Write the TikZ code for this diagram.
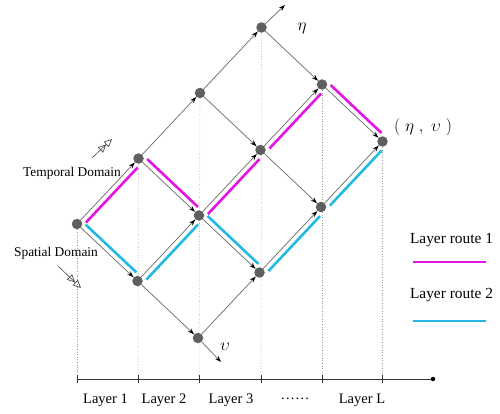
\documentclass[tikz,border=0pt]{standalone}
\usepackage{fontspec}
\setmainfont{Liberation Serif}
\usetikzlibrary{arrows.meta,calc,backgrounds}
\definecolor{dotgray}{RGB}{95,95,95}
\definecolor{edgegray}{RGB}{105,105,105}
\definecolor{rmag}{RGB}{228,20,228}
\definecolor{rcyan}{RGB}{35,185,228}
\newcommand{\rtEta}[3]{\draw[#1] ($(#2)!0.08!(#3)+(4pt,-3.8pt)$) -- ($(#2)!0.92!(#3)+(4pt,-3.8pt)$);}
\newcommand{\rtUps}[3]{\draw[#1] ($(#2)!0.08!(#3)+(3.8pt,4pt)$) -- ($(#2)!0.92!(#3)+(3.8pt,4pt)$);}
\begin{document}
\begin{tikzpicture}[x=1pt,y=-1pt,
  dot/.style={circle,fill=dotgray,inner sep=0pt,minimum size=10.5pt},
  edge/.style={draw=edgegray,line width=0.7pt,-{Stealth[length=6.5pt,width=4.5pt,color=black]}},
  routeA/.style={draw=rmag,line width=2.6pt},
  routeB/.style={draw=rcyan,line width=2.6pt},
  vline/.style={draw=gray!75,dotted,line width=0.6pt},
  axisline/.style={draw=black!80,line width=0.8pt},
  enddot/.style={circle,fill=black,inner sep=0pt,minimum size=4.5pt},
  lbl/.style={font=\fontsize{14.5}{16}\selectfont,inner sep=0pt,anchor=base},
  leg/.style={font=\fontsize{15.4}{17}\selectfont,inner sep=0pt,anchor=base},
  dom/.style={font=\fontsize{13.4}{15}\selectfont,inner sep=0pt,anchor=base},
  greek/.style={font=\fontsize{18}{18}\selectfont,inner sep=0pt},
  domarrow/.style={draw=black!70,line width=0.6pt,-{Triangle[open,length=8pt,width=7.5pt,line width=0.7pt]Triangle[open,length=8pt,width=7.5pt,line width=0.7pt]}}]
\useasboundingbox (0,0) rectangle (500,414);

% grid nodes (eta index, upsilon index)
\node[dot] (n00) at (77,224) {};
\node[dot] (n10) at (138.5,158.5) {};
\node[dot] (n20) at (200,93) {};
\node[dot] (n30) at (261.5,27.5) {};
\node[dot] (n01) at (137.5,281) {};
\node[dot] (n11) at (199,215.5) {};
\node[dot] (n21) at (260.5,150) {};
\node[dot] (n31) at (322,84.5) {};
\node[dot] (n02) at (198,338) {};
\node[dot] (n12) at (259.5,272.5) {};
\node[dot] (n22) at (321,207) {};
\node[dot] (n32) at (382.5,141.5) {};

% axis coordinates
\coordinate (t0) at (77,379);
\coordinate (t1) at (138,379);
\coordinate (t2) at (199,379);
\coordinate (t3) at (261,379);
\coordinate (t4) at (322,379);
\coordinate (t5) at (382.5,379);
\node[enddot] (axend) at (433,379) {};
\coordinate (etaend) at (285,5);
\coordinate (upsend) at (221,362);

\begin{scope}[on background layer]
  % dotted layer lines
  \draw[vline] (n00) -- (t0);
  \draw[vline] (n10) -- (t1);
  \draw[vline] (n20) -- (t2);
  \draw[vline] (n30) -- (t3);
  \draw[vline] (n31) -- (t4);
  \draw[vline] (n32) -- (t5);
  % grid edges
  \draw[edge] (n00) -- (n10);
  \draw[edge] (n10) -- (n20);
  \draw[edge] (n20) -- (n30);
  \draw[edge] (n01) -- (n11);
  \draw[edge] (n11) -- (n21);
  \draw[edge] (n21) -- (n31);
  \draw[edge] (n02) -- (n12);
  \draw[edge] (n12) -- (n22);
  \draw[edge] (n22) -- (n32);
  \draw[edge] (n00) -- (n01);
  \draw[edge] (n01) -- (n02);
  \draw[edge] (n10) -- (n11);
  \draw[edge] (n11) -- (n12);
  \draw[edge] (n20) -- (n21);
  \draw[edge] (n21) -- (n22);
  \draw[edge] (n30) -- (n31);
  \draw[edge] (n31) -- (n32);
  \draw[edge] (n30) -- (etaend);
  \draw[edge] (n02) -- (upsend);
  % route 1
  \rtEta{routeA}{n00}{n10}
  \rtUps{routeA}{n10}{n11}
  \rtEta{routeA}{n11}{n21}
  \rtEta{routeA}{n21}{n31}
  \rtUps{routeA}{n31}{n32}
  % route 2
  \rtUps{routeB}{n00}{n01}
  \rtEta{routeB}{n01}{n11}
  \rtUps{routeB}{n11}{n12}
  \rtEta{routeB}{n12}{n22}
  \rtEta{routeB}{n22}{n32}
\end{scope}

% axis
\draw[axisline] (t0) -- (axend);
\foreach \t in {t0,t1,t2,t3,t4,t5}
  \draw[axisline] ($(\t)+(0,-4pt)$) -- ($(\t)+(0,4pt)$);

% layer labels
\node[lbl] (lay1) at (105.5,403) {Layer 1};
\node[lbl] (lay2) at (164,403) {Layer 2};
\node[lbl] (lay3) at (231,403) {Layer 3};
\node[lbl] (laydots) at (295,403) {\raisebox{3.5pt}{……}};
\node[lbl] (layL) at (362,403) {Layer L};

% greek labels
\node[greek] (etalbl) at (302,28) {$\eta$};
\node[greek] (upslbl) at (225,347) {$\upsilon$};
\node[greek] (pairlbl) at (423,127) {$(\;\eta\;,\;\upsilon\;)$};

% domain labels and arrows
\node[dom] (temp) at (72,176) {Temporal Domain};
\node[dom] (spat) at (56,256) {Spatial Domain};
\coordinate (td1) at (92,158);
\coordinate (td2) at (112,139);
\coordinate (sd1) at (58,266);
\coordinate (sd2) at (81,288);
\draw[domarrow] (td1) -- (td2);
\draw[domarrow] (sd1) -- (sd2);

% legend
\node[leg] (leg1) at (451.5,243) {Layer route 1};
\node[leg] (leg2) at (451.5,298) {Layer route 2};
\coordinate (lg1a) at (413,262);
\coordinate (lg1b) at (486,262);
\coordinate (lg2a) at (413,321);
\coordinate (lg2b) at (486,321);
\draw[routeA] (lg1a) -- (lg1b);
\draw[routeB] (lg2a) -- (lg2b);
\end{tikzpicture}
\end{document}
